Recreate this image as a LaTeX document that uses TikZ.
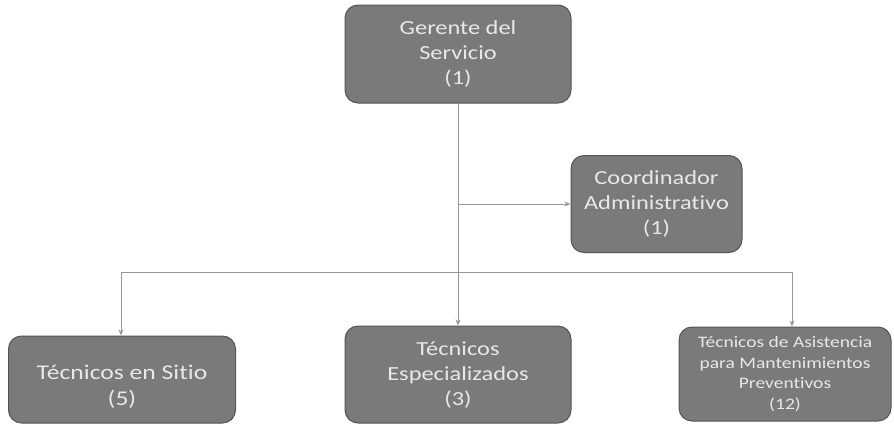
\documentclass[tikz,border=0pt]{standalone}
\usepackage{fontspec}
\setmainfont{Carlito}[FakeStretch=1.22,Ligatures={NoCommon}]
\usetikzlibrary{arrows.meta}
\definecolor{boxfill}{RGB}{122,122,122}
\definecolor{boxedge}{RGB}{85,85,85}
\definecolor{boxtext}{RGB}{232,232,232}
\definecolor{linecol}{RGB}{150,150,150}
\begin{document}
\begin{tikzpicture}[x=1pt,y=-1pt,
  orgbox/.style={draw=boxedge, line width=1pt, fill=boxfill, rounded corners=13pt,
    text=boxtext, align=center, inner sep=2pt, font=\fontsize{20}{25}\selectfont},
  smallbox/.style={orgbox, font=\fontsize{16}{20.5}\selectfont},
  link/.style={draw=linecol, line width=0.8pt},
  arr/.style={link, -{Stealth[length=6pt,width=5pt]}}]
\useasboundingbox (0,0) rectangle (894,424);
\node[orgbox, minimum width=226pt, minimum height=98pt] (ger) at (458,54) {Gerente del\\Servicio\\(1)};
\node[orgbox, minimum width=171pt, minimum height=97pt] (coord) at (656.5,204) {Coordinador\\Administrativo\\(1)};
\node[orgbox, minimum width=227pt, minimum height=87pt, font=\fontsize{21}{26}\selectfont] (sitio) at (122,379.5)
  {\raisebox{-8pt}[\height][\depth]{\begin{tabular}{@{}c@{}}Técnicos en Sitio\\(5)\end{tabular}}};
\node[orgbox, minimum width=226pt, minimum height=97pt] (esp) at (458,374.5) {Técnicos\\Especializados\\(3)};
\node[smallbox, minimum width=212pt, minimum height=94pt] (asis) at (785,374) {Técnicos de Asistencia\\para Mantenimientos\\Preventivos\\(12)};
\coordinate (branch) at (ger.south |- coord.west);
\coordinate (hl) at (121,272);
\coordinate (hr) at (792,272);
\draw[arr] (ger.south) -- (esp.north);
\draw[arr] (branch) -- (coord.west);
\draw[link] (hl) -- (hr);
\draw[arr] (hl) -- (hl |- sitio.north);
\draw[arr] (hr) -- (hr |- asis.north);
\end{tikzpicture}
\end{document}
